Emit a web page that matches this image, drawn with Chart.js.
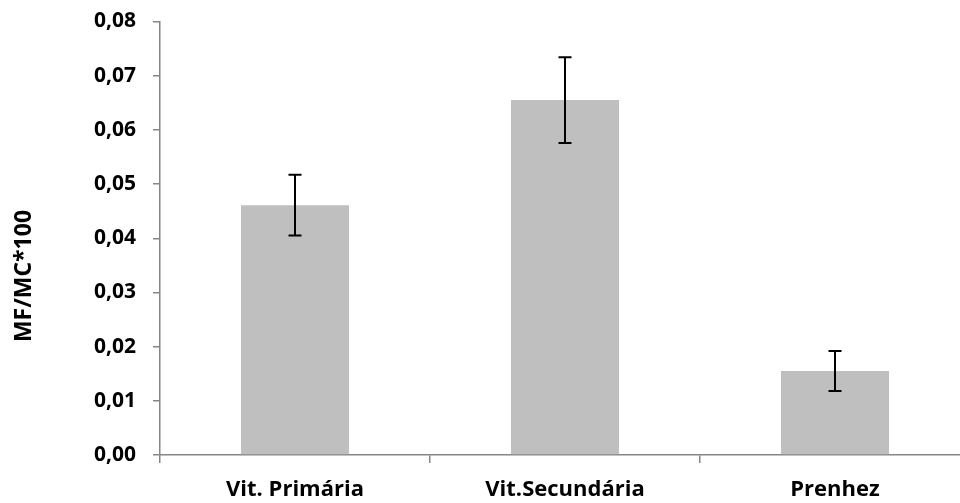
<!DOCTYPE html>
<html>
<head>
<meta charset="utf-8">
<script src="https://cdn.jsdelivr.net/npm/chart.js@4.4.1/dist/chart.umd.min.js"></script>
<style>
  html, body { margin: 0; padding: 0; background: #fff; overflow: hidden; }
  #wrap { width: 972px; height: 503px; position: relative; }
</style>
</head>
<body>
<div id="wrap"><canvas id="c"></canvas></div>
<script>
// Stages and mean ratio with standard error
const categories = ['Vit. Primária', 'Vit.Secundária', 'Prenhez'];
const means = [0.0461, 0.0655, 0.0155];
const errors = [0.0056, 0.0079, 0.0037];
const yTicks = [0, 0.01, 0.02, 0.03, 0.04, 0.05, 0.06, 0.07, 0.08];
const yTitle = 'MF/MC*100';

const AXIS = '#868686';
const FONT = '"Open Sans", "Liberation Sans", sans-serif';

// Draws the vertical error whiskers with caps on each bar
const errorBars = {
  id: 'errorBars',
  afterDatasetsDraw(chart) {
    const { ctx } = chart;
    const y = chart.scales.y;
    const meta = chart.getDatasetMeta(0);
    ctx.save();
    ctx.strokeStyle = '#000';
    ctx.lineWidth = 2;
    meta.data.forEach((bar, i) => {
      const x = bar.x;
      const top = y.getPixelForValue(means[i] + errors[i]);
      const bot = y.getPixelForValue(means[i] - errors[i]);
      const half = 6.5;
      ctx.beginPath();
      ctx.moveTo(x, top); ctx.lineTo(x, bot);
      ctx.moveTo(x - half, top); ctx.lineTo(x + half, top);
      ctx.moveTo(x - half, bot); ctx.lineTo(x + half, bot);
      ctx.stroke();
    });
    ctx.restore();
  }
};

// Rotated y-axis title, sitting a little below the axis midpoint
const axisTitle = {
  id: 'axisTitle',
  afterDraw(chart) {
    const { ctx, chartArea } = chart;
    ctx.save();
    ctx.translate(24, chartArea.bottom - 179);
    ctx.rotate(-Math.PI / 2);
    ctx.fillStyle = '#000';
    ctx.font = 'bold 23px ' + FONT;
    ctx.textAlign = 'center';
    ctx.textBaseline = 'middle';
    ctx.fillText(yTitle, 0, 0);
    ctx.restore();
  }
};

new Chart(document.getElementById('c'), {
  type: 'bar',
  data: {
    labels: categories,
    datasets: [{
      data: means,
      backgroundColor: '#bfbfbf',
      borderWidth: 0,
      categoryPercentage: 0.4,
      barPercentage: 1.0
    }]
  },
  options: {
    responsive: true,
    maintainAspectRatio: false,
    animation: false,
    layout: { padding: { top: 21.5, right: 2, left: 0, bottom: 0 } },
    plugins: { legend: { display: false }, tooltip: { enabled: false } },
    scales: {
      x: {
        offset: true,
        grid: { offset: true, drawOnChartArea: false, drawTicks: true, tickLength: 8, color: AXIS, lineWidth: 1.5 },
        border: { color: AXIS, width: 1.5 },
        ticks: { color: '#000', padding: 14, font: { family: FONT, size: 22, weight: 'bold' } },
        afterFit(scale) { scale.height = 48; }
      },
      y: {
        min: 0, max: 0.08,
        afterBuildTicks(scale) { scale.ticks = yTicks.map(v => ({ value: v })); },
        grid: { drawOnChartArea: false, drawTicks: true, tickLength: 7, color: AXIS, lineWidth: 1.5 },
        border: { color: AXIS, width: 1.5 },
        ticks: {
          color: '#000', padding: 17,
          font: { family: FONT, size: 21, weight: 'bold' },
          callback: v => v.toFixed(2).replace('.', ',')
        },
        afterFit(scale) {
          scale.width = 160;
          scale.paddingTop = 0;
          scale.paddingBottom = 0;
        }
      }
    }
  },
  plugins: [errorBars, axisTitle]
});
</script>
</body>
</html>
